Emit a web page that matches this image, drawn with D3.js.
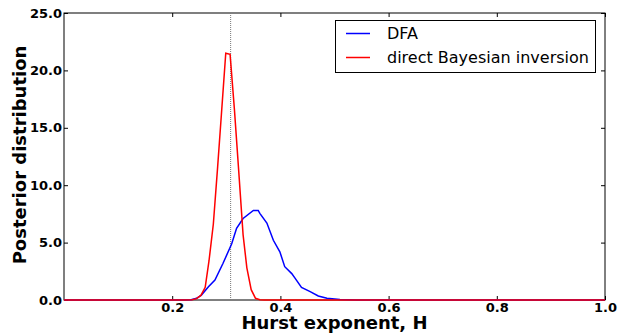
<!DOCTYPE html>
<html>
<head>
<meta charset="utf-8">
<script src="https://cdn.jsdelivr.net/npm/d3@7"></script>
<style>
  body { margin: 0; background: #fff; }
  svg { display: block; font-family: "DejaVu Sans", sans-serif; }
</style>
</head>
<body>
<svg id="chart" width="618" height="334"></svg>
<script>
// values
const seriesNames = ["DFA", "direct Bayesian inversion"];
const seriesColors = ["#0000ff", "#ff0000"];

const dfaH = [0.0, 0.22, 0.235, 0.245, 0.254, 0.267, 0.279, 0.294, 0.31, 0.319, 0.331, 0.35, 0.359,
  0.362, 0.375, 0.387, 0.399, 0.408, 0.421, 0.427, 0.439, 0.455, 0.47, 0.486, 0.51, 0.54, 0.6, 1.0];
const dfaPost = [0, 0, 0.02, 0.15, 0.43, 1.16, 1.74, 3.2, 4.9, 6.25, 7.1, 7.8, 7.8,
  7.55, 6.7, 5.2, 4.2, 2.9, 2.3, 1.9, 1.1, 0.73, 0.35, 0.15, 0.05, 0.01, 0, 0];

const bayesH = [0.0, 0.22, 0.237, 0.245, 0.253, 0.261, 0.268, 0.276, 0.284, 0.291, 0.299, 0.307,
  0.315, 0.323, 0.331, 0.338, 0.346, 0.354, 0.362, 0.37, 1.0];
const bayesPost = [0, 0, 0.02, 0.12, 0.4, 1.1, 3.4, 6.6, 11.6, 16.2, 21.5, 21.4,
  16.6, 11.2, 5.7, 2.8, 0.9, 0.15, 0.02, 0, 0];

const trueH = 0.308;
const xTicks = [0.2, 0.4, 0.6, 0.8, 1.0];
const yTicks = [0, 5, 10, 15, 20, 25];

const svg = d3.select("#chart");
const plotLeft = 64, plotRight = 605, plotTop = 13, plotBottom = 300;

const x = d3.scaleLinear().domain([0, 1]).range([plotLeft, plotRight]);
const y = d3.scaleLinear().domain([0, 25]).range([plotBottom, plotTop]);

// frame
svg.append("rect")
  .attr("x", plotLeft).attr("y", plotTop)
  .attr("width", plotRight - plotLeft).attr("height", plotBottom - plotTop)
  .attr("fill", "none").attr("stroke", "#000").attr("stroke-width", 1);

function styleAxis(g, hideText) {
  g.select(".domain").remove();
  g.selectAll(".tick line").attr("stroke", "#000");
  g.selectAll(".tick text")
    .attr("fill", "#000")
    .attr("font-size", "13px")
    .attr("font-weight", "bold")
    .attr("font-family", "DejaVu Sans");
  if (hideText) g.selectAll(".tick text").remove();
}

svg.append("g")
  .attr("transform", "translate(0," + plotBottom + ")")
  .call(d3.axisBottom(x).tickValues(xTicks).tickFormat(d3.format(".1f")).tickSize(-4).tickPadding(3))
  .call(g => styleAxis(g, false));

svg.append("g")
  .attr("transform", "translate(0," + plotTop + ")")
  .call(d3.axisTop(x).tickValues(xTicks).tickSize(-4))
  .call(g => styleAxis(g, true));

svg.append("g")
  .attr("transform", "translate(" + plotLeft + ",0)")
  .call(d3.axisLeft(y).tickValues(yTicks).tickFormat(d3.format(".1f")).tickSize(-4).tickPadding(2))
  .call(g => styleAxis(g, false));

svg.append("g")
  .attr("transform", "translate(" + plotRight + ",0)")
  .call(d3.axisRight(y).tickValues(yTicks).tickSize(-4))
  .call(g => styleAxis(g, true));

// true value marker
svg.append("line")
  .attr("x1", x(trueH)).attr("x2", x(trueH))
  .attr("y1", plotTop).attr("y2", plotBottom)
  .attr("stroke", "#777").attr("stroke-width", 1)
  .attr("stroke-dasharray", "1,1");

const line = d3.line()
  .x(d => x(d[0]))
  .y(d => y(d[1]));

svg.append("path")
  .datum(d3.zip(dfaH, dfaPost))
  .attr("d", line)
  .attr("fill", "none")
  .attr("stroke", seriesColors[0])
  .attr("stroke-width", 1.5);

svg.append("path")
  .datum(d3.zip(bayesH, bayesPost))
  .attr("d", line)
  .attr("fill", "none")
  .attr("stroke", seriesColors[1])
  .attr("stroke-width", 1.5);

// axis labels
svg.append("text")
  .attr("x", (plotLeft + plotRight) / 2).attr("y", 328.5)
  .attr("text-anchor", "middle")
  .attr("font-size", "18px").attr("font-weight", "bold")
  .text("Hurst exponent, H");

svg.append("text")
  .attr("transform", "translate(25.5,155) rotate(-90)")
  .attr("text-anchor", "middle")
  .attr("font-size", "18px").attr("font-weight", "bold")
  .text("Posterior distribution");

// legend
const legend = svg.append("g");
legend.append("rect")
  .attr("x", 335.5).attr("y", 20.5)
  .attr("width", 260).attr("height", 52)
  .attr("fill", "#fff").attr("stroke", "#000").attr("stroke-width", 1);

seriesNames.forEach(function(name, i) {
  const yy = 33.5 + i * 24;
  legend.append("line")
    .attr("x1", 346).attr("x2", 370)
    .attr("y1", yy).attr("y2", yy)
    .attr("stroke", seriesColors[i]).attr("stroke-width", 1.5);
  legend.append("text")
    .attr("x", 387).attr("y", yy + 5.8)
    .attr("font-size", "16px")
    .text(name);
});
</script>
</body>
</html>
